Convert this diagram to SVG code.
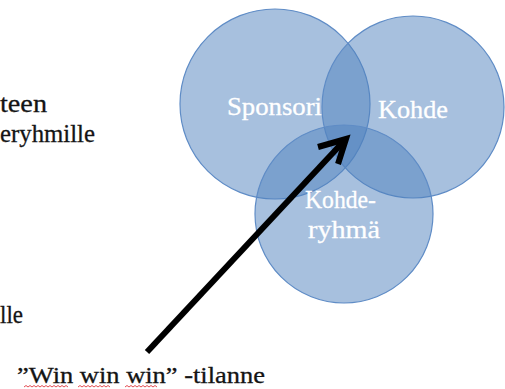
<svg xmlns="http://www.w3.org/2000/svg" width="505" height="389" viewBox="0 0 505 389">
<defs>
<style>
.c{fill:#4f81bd;fill-opacity:0.5;stroke:#5f8cc6;stroke-width:1.2}
.lbl{font-family:"Liberation Serif",serif;font-size:26px;fill:#ffffff;stroke:#ffffff;stroke-width:0.3}
.txt{font-family:"Liberation Serif",serif;font-size:26px;fill:#141414;stroke:#141414;stroke-width:0.3}
.sq{fill:none;stroke:#e0393e;stroke-width:0.9}
</style>
</defs>
<rect width="505" height="389" fill="#ffffff"/>
<g id="sponsori">
<circle class="c" cx="275" cy="104" r="95"/>
<text class="lbl" x="227" y="115" textLength="95" lengthAdjust="spacingAndGlyphs">Sponsori</text>
</g>
<g id="kohde">
<circle class="c" cx="413" cy="107" r="91"/>
<text class="lbl" x="378" y="118" textLength="70" lengthAdjust="spacingAndGlyphs">Kohde</text>
</g>
<g id="kohderyhma">
<circle class="c" cx="344" cy="214" r="89"/>
<text class="lbl" x="305" y="208" textLength="71" lengthAdjust="spacingAndGlyphs">Kohde-</text>
<text class="lbl" x="308" y="238" textLength="72" lengthAdjust="spacingAndGlyphs">ryhmä</text>
</g>
<g id="left-text">
<text class="txt" x="0" y="112" textLength="47" lengthAdjust="spacingAndGlyphs">teen</text>
<text class="txt" x="0" y="142" textLength="95" lengthAdjust="spacingAndGlyphs">eryhmille</text>
<text class="txt" x="0" y="323" textLength="23" lengthAdjust="spacingAndGlyphs">lle</text>
</g>
<g id="win-label">
<text class="txt" x="17" y="383" style="font-size:24px" textLength="248" lengthAdjust="spacingAndGlyphs">”Win win win” -tilanne</text>
<path class="sq" d="M24 387 l2 -1.5 l2 1.5 l2 -1.5 l2 1.5 l2 -1.5 l2 1.5 l2 -1.5 l2 1.5 l2 -1.5 l2 1.5 l2 -1.5 l2 1.5 l2 -1.5 l2 1.5 l2 -1.5 l2 1.5 l2 -1.5 l2 1.5 l2 -1.5 l2 1.5 l2 -1.5 l2 1.5"/>
<path class="sq" d="M78 387 l2 -1.5 l2 1.5 l2 -1.5 l2 1.5 l2 -1.5 l2 1.5 l2 -1.5 l2 1.5 l2 -1.5 l2 1.5 l2 -1.5 l2 1.5 l2 -1.5 l2 1.5 l2 -1.5 l2 1.5"/>
<path class="sq" d="M125 387 l2 -1.5 l2 1.5 l2 -1.5 l2 1.5 l2 -1.5 l2 1.5 l2 -1.5 l2 1.5 l2 -1.5 l2 1.5 l2 -1.5 l2 1.5 l2 -1.5 l2 1.5 l2 -1.5 l2 1.5"/>
</g>
<g id="connectors">
<line x1="147" y1="352" x2="344" y2="141" stroke="#000" stroke-width="6"/>
<polyline points="318,147 346,139 338,164" fill="none" stroke="#000" stroke-width="6" stroke-linejoin="miter"/>
</g>
</svg>
